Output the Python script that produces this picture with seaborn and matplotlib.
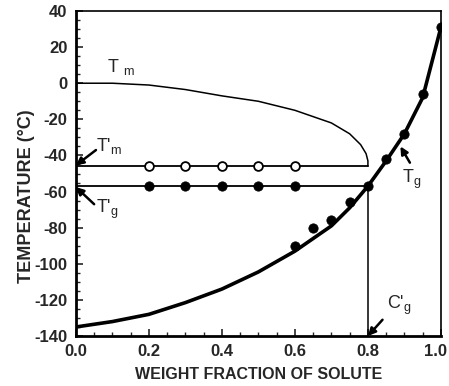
import matplotlib
matplotlib.use("Agg")
import matplotlib.pyplot as plt
from matplotlib.ticker import MultipleLocator
from matplotlib.transforms import ScaledTranslation
import seaborn as sns

# ---- data ----
open_x = [0.2, 0.3, 0.4, 0.5, 0.6]
open_y = [-46, -46, -46, -46, -46]
fill_h_x = [0.2, 0.3, 0.4, 0.5, 0.6]
fill_h_y = [-57, -57, -57, -57, -57]
tg_pts_x = [0.6, 0.65, 0.7, 0.75, 0.8, 0.85, 0.9, 0.95, 1.0]
tg_pts_y = [-90, -80, -75.5, -66, -57, -42, -28, -6, 31]
tg_curve_x = [0.0, 0.1, 0.2, 0.3, 0.4, 0.5, 0.6, 0.7, 0.75, 0.8, 0.85, 0.9, 0.95, 1.0]
tg_curve_y = [-135, -132, -128, -121.5, -114, -104.5, -93, -79, -69, -57, -43, -28, -8, 31]
tm_curve_x = [0.0, 0.1, 0.2, 0.3, 0.4, 0.5, 0.6, 0.7, 0.75, 0.78, 0.795, 0.8, 0.8]
tm_curve_y = [0, 0, -1, -3.5, -7, -10, -15, -22, -28, -34, -39, -43, -46]
tpm_x = [0.0, 0.8]
tpm_y = [-46, -46]
tpg_x = [0.0, 0.8]
tpg_y = [-57, -57]
cg_x = [0.8, 0.8]
cg_y = [-57, -140]
x_ticks = [0.0, 0.2, 0.4, 0.6, 0.8, 1.0]
x_tick_labels = ['0.0', '0.2', '0.4', '0.6', '0.8', '1.0']

sns.set_theme(style="white")
plt.rcParams['font.family'] = ['Liberation Sans', 'DejaVu Sans']
plt.rcParams['mathtext.fontset'] = 'custom'
plt.rcParams['mathtext.rm'] = 'Liberation Sans'
plt.rcParams['mathtext.it'] = 'Liberation Sans'
plt.rcParams['axes.unicode_minus'] = False

fig = plt.figure(figsize=(4.49, 3.86), dpi=100)
ax = fig.add_axes([0.169, 0.1295, 0.813, 0.842])

k = 'black'
sns.lineplot(x=tm_curve_x, y=tm_curve_y, sort=False, color=k, lw=1.1, ax=ax, estimator=None)
sns.lineplot(x=tpm_x, y=tpm_y, color=k, lw=1.3, ax=ax, estimator=None)
sns.lineplot(x=tpg_x, y=tpg_y, color=k, lw=1.3, ax=ax, estimator=None)
sns.lineplot(x=cg_x, y=cg_y, sort=False, color=k, lw=1.1, ax=ax, estimator=None)
sns.lineplot(x=tg_curve_x, y=tg_curve_y, color=k, lw=2.6, ax=ax, estimator=None)
sns.scatterplot(x=open_x, y=open_y, ax=ax, s=40, facecolor='white', edgecolor=k, linewidth=1.3, zorder=5)
sns.scatterplot(x=fill_h_x, y=fill_h_y, ax=ax, s=45, color=k, edgecolor=k, zorder=5)
sns.scatterplot(x=tg_pts_x, y=tg_pts_y, ax=ax, s=45, color=k, edgecolor=k, zorder=5)

ax.set_xlim(0, 1.0)
ax.set_ylim(-140, 40)
ax.set_xticks(x_ticks)
ax.set_xticklabels(x_tick_labels)
ax.xaxis.set_minor_locator(MultipleLocator(0.05))
ax.yaxis.set_major_locator(MultipleLocator(20))
ax.yaxis.set_minor_locator(MultipleLocator(5))
ax.tick_params(axis='both', which='major', direction='in', length=5, width=1.2,
               labelsize=12, pad=6, bottom=True, left=True)
ax.tick_params(axis='both', which='minor', direction='in', length=3, width=1.0,
               bottom=True, left=True)
for lab in ax.get_xticklabels() + ax.get_yticklabels():
    lab.set_fontweight('bold')
for lab in ax.get_xticklabels():
    if lab.get_text() == '1.0':
        lab.set_transform(lab.get_transform() + ScaledTranslation(-5/100, 0, fig.dpi_scale_trans))
for s in ['left', 'bottom']:
    ax.spines[s].set_linewidth(2.0)
for s in ['top', 'right']:
    ax.spines[s].set_linewidth(1.2)
for s in ax.spines.values():
    s.set_color(k)

ax.set_xlabel('WEIGHT FRACTION OF SOLUTE', fontsize=11.5, fontweight='bold', va='center')
ax.set_ylabel('TEMPERATURE (°C)', fontsize=13, fontweight='bold', va='center', ha='center')
ax.xaxis.set_label_coords(0.5, -0.117)
ax.yaxis.set_label_coords(-0.134, 0.43)

ap = dict(arrowstyle='-|>', color=k, lw=1.8, mutation_scale=11, shrinkA=0, shrinkB=0)
fs = 13
ax.text(0.085, 3.5, r'T $_{\mathrm{m}}$', fontsize=fs, ha='left', va='bottom')
ax.annotate('', xy=(0.0, -45.5), xytext=(0.055, -37), arrowprops=ap)
ax.text(0.056, -34.5, r"T'$_{\mathrm{m}}$", fontsize=fs, ha='left', va='center')
ax.annotate('', xy=(0.0, -57.5), xytext=(0.05, -67), arrowprops=ap)
ax.text(0.056, -70, r"T'$_{\mathrm{g}}$", fontsize=fs, ha='left', va='center')
ax.annotate('', xy=(0.889, -35), xytext=(0.915, -44), arrowprops=ap)
ax.text(0.893, -53.5, r"T$_{\mathrm{g}}$", fontsize=fs, ha='left', va='center')
ax.annotate('', xy=(0.8, -140), xytext=(0.84, -131), arrowprops=ap)
ax.text(0.853, -123, r"C'$_{\mathrm{g}}$", fontsize=fs, ha='left', va='center')

fig.savefig('out.png', dpi=100)
